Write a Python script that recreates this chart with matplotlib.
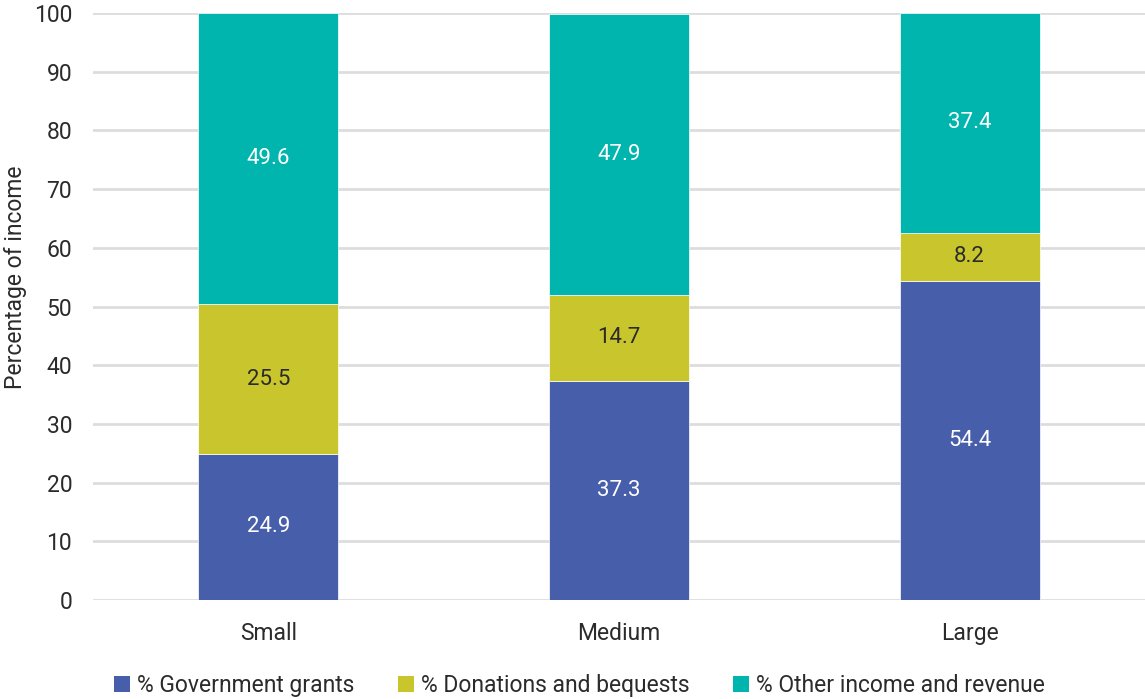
import numpy as np
import matplotlib.pyplot as plt
from matplotlib.patches import Patch

plt.rcParams['font.family'] = ['Roboto', 'DejaVu Sans']

# Income mix by organisation size (percent)
sizes = ['Small', 'Medium', 'Large']
government = [24.9, 37.3, 54.4]
donations = [25.5, 14.7, 8.2]
other = [49.6, 47.9, 37.4]

series_names = ['% Government grants', '% Donations and bequests',
                '% Other income and revenue']
colors = ['#475EAA', '#C8C62C', '#00B5AD']
text_colors = ['white', '#2b2b2b', 'white']

fig = plt.figure(figsize=(11.45, 6.99), dpi=100)
ax = fig.add_axes([0.0812, 0.1416, 0.9188, 0.8398])

x = np.arange(len(sizes))
bottom = np.zeros(len(sizes))
for vals, col, tcol in zip([government, donations, other], colors, text_colors):
    vals = np.array(vals)
    ax.bar(x, vals, width=0.4, bottom=bottom, color=col, zorder=3,
           edgecolor='white', linewidth=0.5)
    for xi, b, v in zip(x, bottom, vals):
        ax.text(xi, b + v / 2, f'{v:.1f}', ha='center', va='center',
                color=tcol, fontsize=16, zorder=4)
    bottom += vals

ax.set_xlim(-0.5, 2.5)
ax.set_ylim(0, 100)
ax.set_yticks(np.arange(0, 101, 10))
ax.set_xticks(x)
ax.set_xticklabels(sizes)
ax.tick_params(axis='both', length=0, labelsize=16.5, colors='#2b2b2b')
ax.tick_params(axis='y', pad=15)
ax.tick_params(axis='x', pad=16)
ax.grid(axis='y', color='#dddddd', linewidth=2, zorder=0)
ax.set_axisbelow(True)
for s in ax.spines.values():
    s.set_visible(False)
ylab = ax.set_ylabel('Percentage of income', fontsize=16.5, color='#2b2b2b')
ylab.set_verticalalignment('center')
ax.yaxis.set_label_coords(-0.074, 0.55)

handles = [Patch(facecolor=c) for c in colors]
fig.legend(handles, series_names, loc='lower center', ncol=3, frameon=False,
           fontsize=16.5, bbox_to_anchor=(0.506, -0.027), handlelength=0.7,
           handleheight=0.7, handletextpad=0.3, columnspacing=1.9,
           labelcolor='#2b2b2b')

fig.savefig('out.png', dpi=100)
